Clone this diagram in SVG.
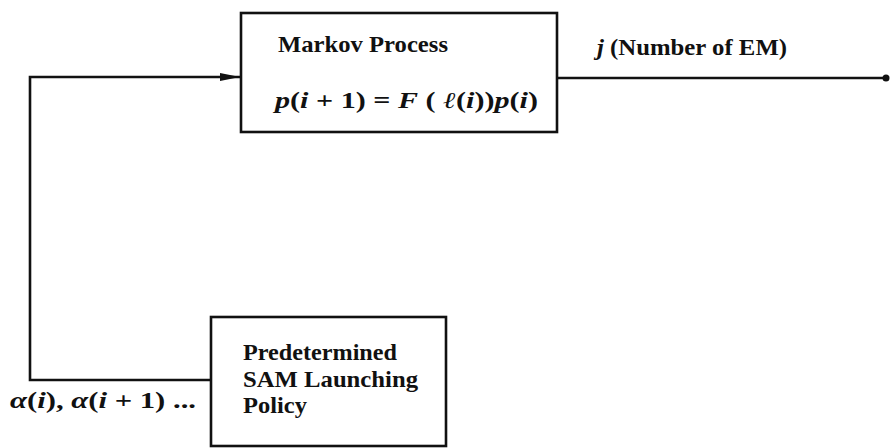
<svg xmlns="http://www.w3.org/2000/svg" width="891" height="448" viewBox="0 0 891 448">
<defs>
<style>
.box{fill:#fff;stroke:#111;stroke-width:2.6}
.ln{fill:none;stroke:#111;stroke-width:2.6}
.t{font-family:"Liberation Serif","Times New Roman",serif;font-weight:bold;fill:#111;font-size:23px}
.it{font-style:italic}
.sc{font-family:"DejaVu Serif",serif;font-style:italic;font-weight:bold}
</style>
<marker id="arr" markerWidth="20" markerHeight="10" refX="20" refY="5" orient="auto" markerUnits="userSpaceOnUse">
<path d="M0,1 L20,5 L0,9 Z" fill="#111"/>
</marker>
</defs>
<rect width="891" height="448" fill="#fff"/>
<g id="connectors">
<path class="ln" d="M212,380 H30 V77 H240" marker-end="url(#arr)"/>
<path class="ln" d="M557,78 H885"/>
<circle cx="886" cy="78" r="3.5" fill="#111"/>
</g>
<g id="markov">
<rect class="box" x="241" y="13" width="316" height="119"/>
<text class="t" x="278" y="52" textLength="170" lengthAdjust="spacingAndGlyphs">Markov Process</text>
<text class="t" x="275" y="108" textLength="263" lengthAdjust="spacingAndGlyphs"><tspan class="it">p</tspan>(<tspan class="it">i</tspan> + 1) = <tspan class="it">F</tspan> ( <tspan class="sc">ℓ</tspan>(<tspan class="it">i</tspan>))<tspan class="it">p</tspan>(<tspan class="it">i</tspan>)</text>
</g>
<g id="output-label">
<text class="t" x="597" y="55" textLength="190" lengthAdjust="spacingAndGlyphs"><tspan class="it">j</tspan> (Number of EM)</text>
</g>
<g id="policy">
<rect class="box" x="211" y="317" width="235" height="129"/>
<text class="t" x="243" y="360" textLength="154" lengthAdjust="spacingAndGlyphs">Predetermined</text>
<text class="t" x="243" y="387" textLength="175" lengthAdjust="spacingAndGlyphs">SAM Launching</text>
<text class="t" x="243" y="413" textLength="64" lengthAdjust="spacingAndGlyphs">Policy</text>
</g>
<g id="alpha-label">
<text class="t" x="10" y="408" textLength="186" lengthAdjust="spacingAndGlyphs"><tspan class="it">α</tspan>(<tspan class="it">i</tspan>), <tspan class="it">α</tspan>(<tspan class="it">i</tspan> + 1) ...</text>
</g>
</svg>
